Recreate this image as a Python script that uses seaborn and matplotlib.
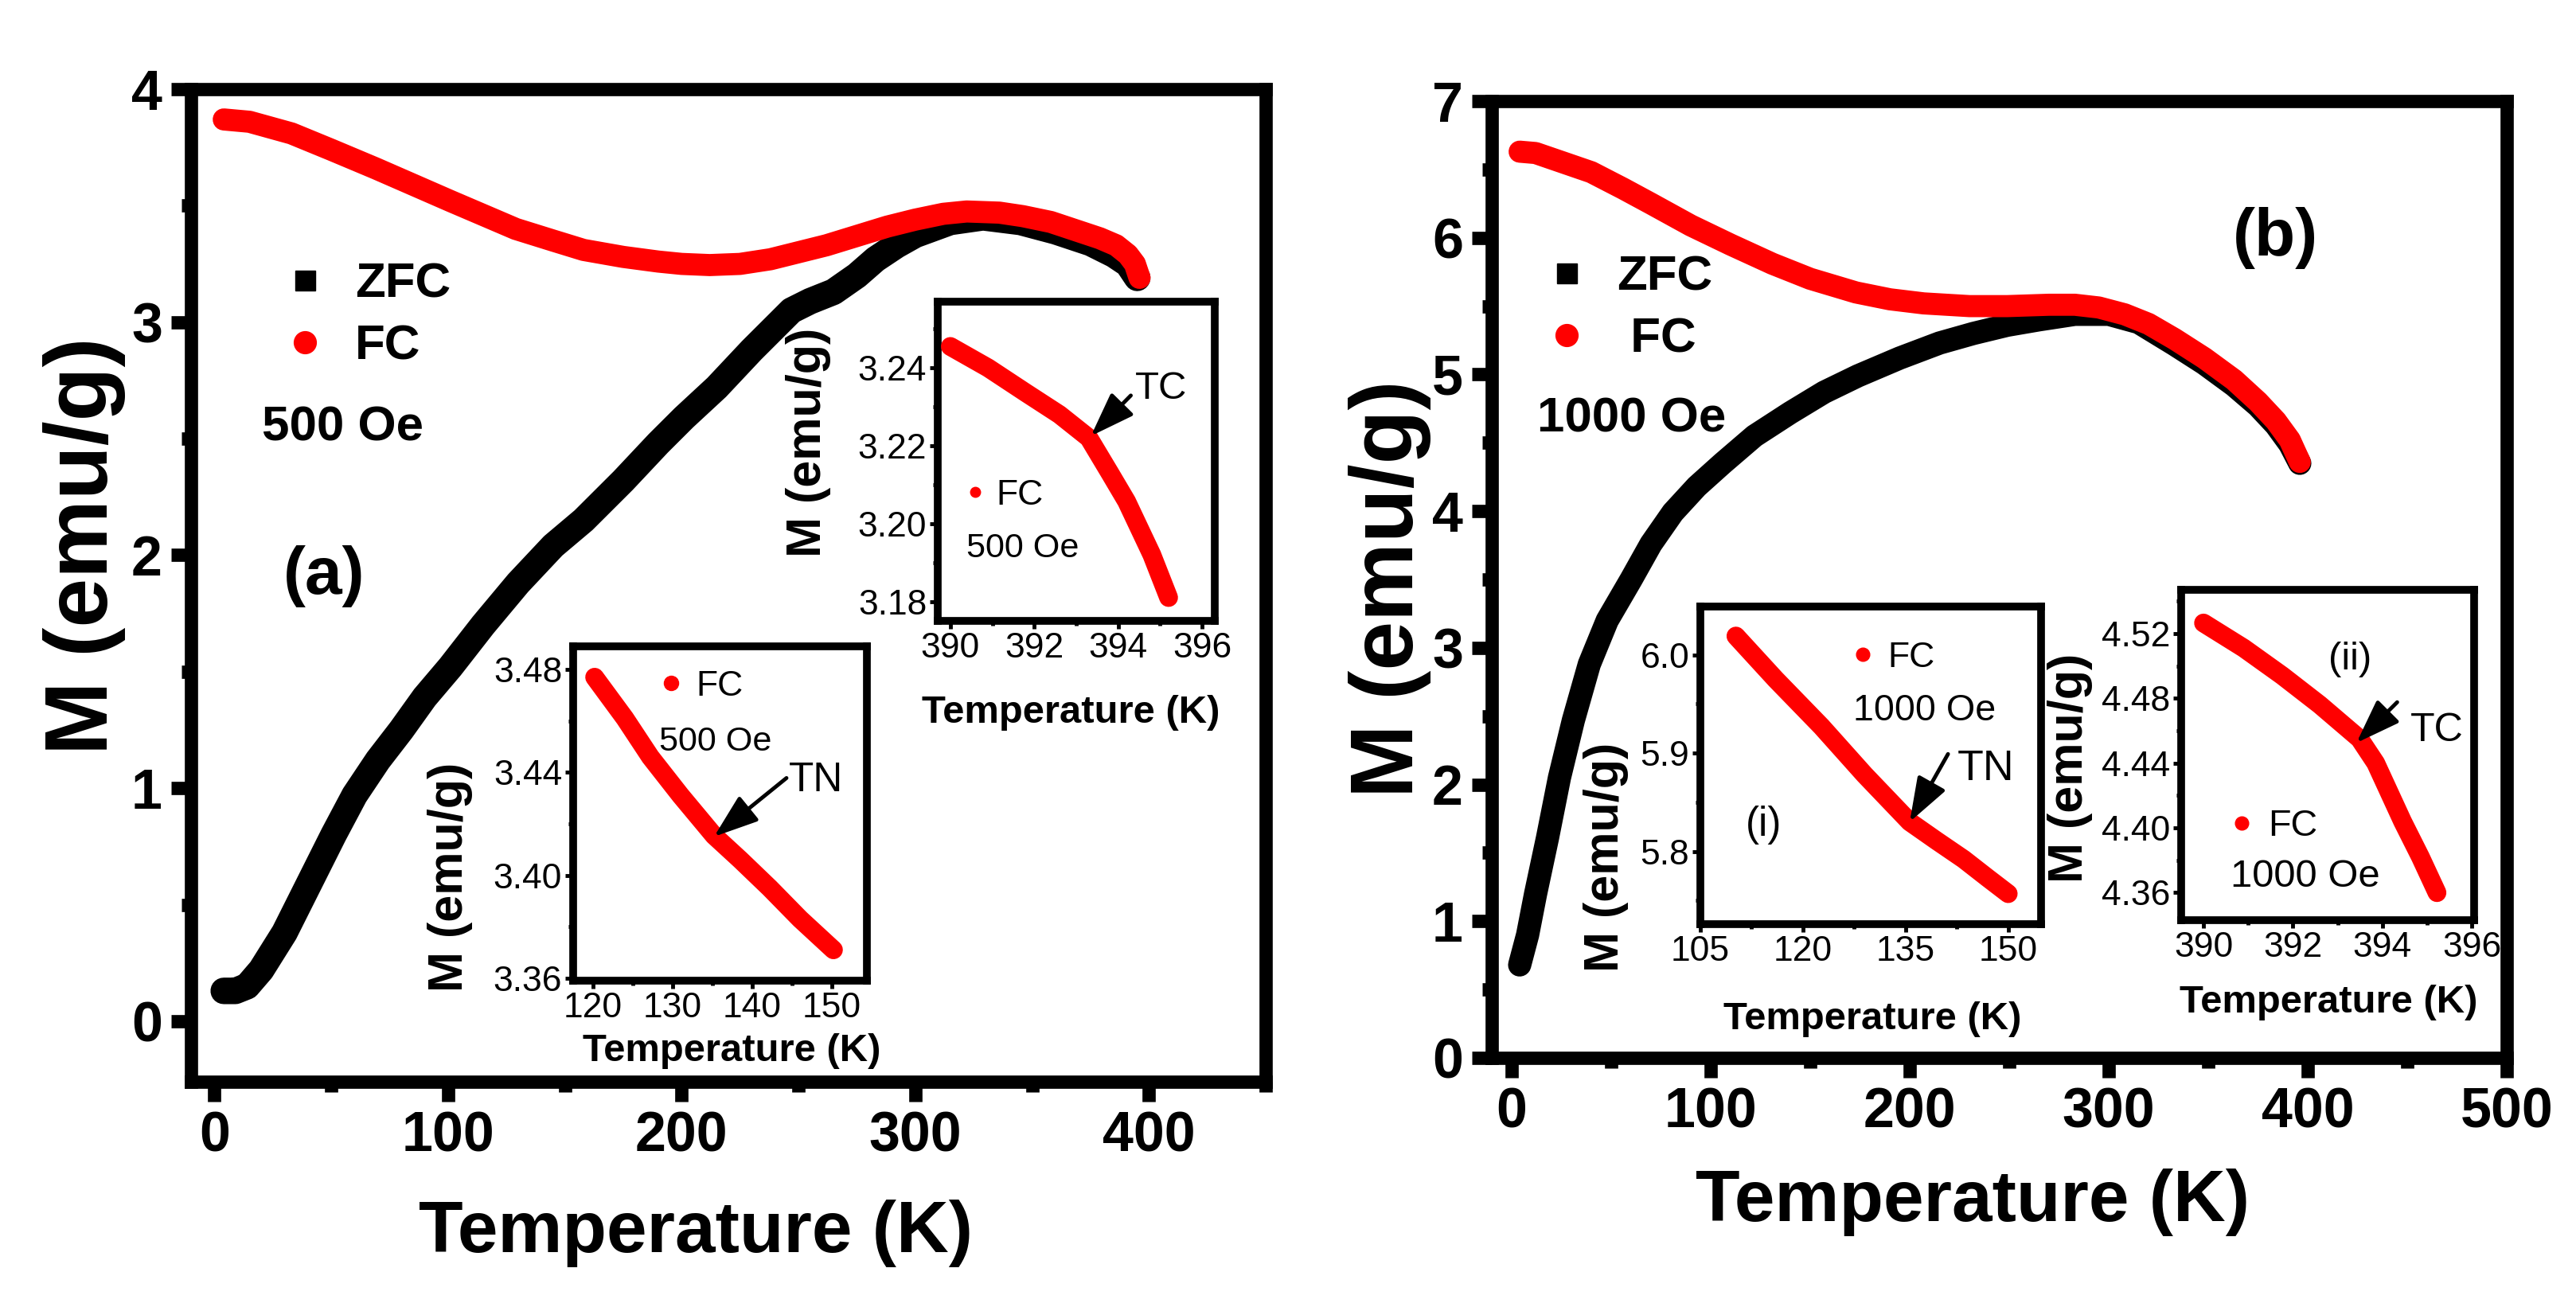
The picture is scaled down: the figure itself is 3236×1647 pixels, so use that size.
import numpy as np
import pandas as pd
import seaborn as sns
import matplotlib
matplotlib.use("Agg")
import matplotlib.pyplot as plt
from matplotlib.lines import Line2D
from matplotlib.ticker import MultipleLocator
from matplotlib import font_manager as fm

# ---------------- data ----------------
# panel (a), 500 Oe
a_T_fc = [4, 15, 33, 50, 69, 85, 101, 115, 129, 145, 158, 175, 190, 200, 212, 225, 238, 250,
          262, 275, 288, 300, 312, 322, 336, 346, 358, 370, 379, 386, 391, 394, 396]
a_M_fc = [3.87, 3.86, 3.81, 3.74, 3.66, 3.59, 3.52, 3.46, 3.40, 3.35, 3.31, 3.28, 3.26, 3.25,
          3.245, 3.25, 3.27, 3.30, 3.33, 3.37, 3.41, 3.44, 3.465, 3.475, 3.47, 3.455, 3.43,
          3.39, 3.36, 3.33, 3.29, 3.25, 3.19]
a_T_zfc = [4, 9, 14, 20, 30, 40, 51, 60, 70, 80, 90, 101, 115, 130, 145, 158, 175, 190, 201,
           215, 230, 240, 247, 255, 265, 275, 283, 292, 300, 315, 329, 345, 360, 375, 385, 391, 395]
a_M_zfc = [0.13, 0.13, 0.15, 0.22, 0.38, 0.58, 0.80, 0.97, 1.12, 1.25, 1.39, 1.52, 1.70, 1.88,
           2.04, 2.15, 2.32, 2.48, 2.59, 2.72, 2.88, 2.98, 3.05, 3.09, 3.13, 3.20, 3.27, 3.33,
           3.375, 3.43, 3.45, 3.43, 3.39, 3.34, 3.29, 3.25, 3.19]

# panel (b), 1000 Oe
b_T_fc = [4, 12, 20, 30, 40, 56, 70, 90, 110, 131, 150, 173, 190, 207, 230, 249, 270, 283,
          295, 308, 320, 333, 348, 363, 375, 384, 391, 396]
b_M_fc = [6.63, 6.62, 6.58, 6.53, 6.48, 6.36, 6.25, 6.09, 5.95, 5.81, 5.70, 5.60, 5.55, 5.52,
          5.50, 5.50, 5.51, 5.51, 5.49, 5.44, 5.37, 5.26, 5.12, 4.96, 4.80, 4.66, 4.52, 4.36]
b_T_zfc = [4, 8, 12, 18, 24, 31, 39, 48, 60, 70, 81, 93, 106, 122, 140, 157, 174, 195, 215,
           232, 249, 265, 283, 300, 315, 333, 348, 363, 375, 384, 391, 396]
b_M_zfc = [0.68, 0.90, 1.20, 1.61, 2.05, 2.47, 2.88, 3.20, 3.50, 3.76, 3.99, 4.18, 4.35, 4.55,
           4.72, 4.87, 4.99, 5.12, 5.23, 5.30, 5.36, 5.40, 5.44, 5.44, 5.38, 5.22, 5.08, 4.92,
           4.77, 4.63, 4.49, 4.35]

# insets
a1_T = [120.2, 124, 127.2, 131, 135.2, 138.5, 142.2, 146, 150.2]
a1_M = [3.477, 3.461, 3.446, 3.431, 3.4154, 3.406, 3.395, 3.383, 3.371]
a2_T = [390.0, 390.9, 391.8, 392.6, 393.3, 393.8, 394.2, 394.8, 395.2]
a2_M = [3.2455, 3.240, 3.2336, 3.228, 3.222, 3.213, 3.2057, 3.192, 3.181]
b1_T = [110.2, 116, 122.7, 129, 135.6, 139.5, 143.5, 147, 150]
b1_M = [6.019, 5.975, 5.927, 5.878, 5.830, 5.811, 5.792, 5.773, 5.757]
b2_T = [390.0, 390.9, 391.76, 392.6, 393.49, 393.85, 394.45, 394.85, 395.22]
b2_M = [4.5265, 4.511, 4.494, 4.476, 4.455, 4.440, 4.404, 4.382, 4.360]

# tick labels
a_xticks = [0, 100, 200, 300, 400]
a_yticks = [0, 1, 2, 3, 4]
b_xticks = [0, 100, 200, 300, 400, 500]
b_yticks = [0, 1, 2, 3, 4, 5, 6, 7]
a1_xticks = [120, 130, 140, 150]
a1_yticks = [3.36, 3.40, 3.44, 3.48]
a2_xticks = [390, 392, 394, 396]
a2_yticks = [3.18, 3.20, 3.22, 3.24]
b1_xticks = [105, 120, 135, 150]
b1_yticks = [5.8, 5.9, 6.0]
b2_xticks = [390, 392, 394, 396]
b2_yticks = [4.36, 4.40, 4.44, 4.48, 4.52]

# ---------------- style ----------------
sns.set_theme(style="white")
try:
    fm.findfont(fm.FontProperties(family="Liberation Sans Narrow", weight="bold"),
                fallback_to_default=False)
    NARROW, NS = "Liberation Sans Narrow", 1.0
except Exception:
    NARROW, NS = "Liberation Sans", 0.84
REG = ["Liberation Sans", "DejaVu Sans"]
plt.rcParams["font.family"] = [NARROW, "DejaVu Sans"]
plt.rcParams["axes.unicode_minus"] = False
for key in ["text.color", "axes.labelcolor", "xtick.color", "ytick.color", "axes.edgecolor"]:
    plt.rcParams[key] = "black"

W, H, DPI = 3237, 1647, 100
fig = plt.figure(figsize=(W / DPI, H / DPI), dpi=DPI)
fig.patch.set_facecolor("white")


def rect(box):
    l, r, t, b = box
    return [l / W, (H - b) / H, (r - l) / W, (b - t) / H]


A_BOX = (240, 1590, 112, 1359)
B_BOX = (1874, 3149, 127, 1329)
A1_BOX = (720, 1089, 812, 1232)
A2_BOX = (1178, 1526, 379, 780)
B1_BOX = (2136, 2564, 762, 1161)
B2_BOX = (2740, 3108, 741, 1156)

RED = "#ff0000"


def style_main(ax, xlim, ylim, xt, yt, xminor, yminor):
    ax.set_facecolor("white")
    ax.set_xlim(*xlim)
    ax.set_ylim(*ylim)
    ax.set_xticks(xt, [str(v) for v in xt], fontsize=60 * NS, fontweight="bold", color="black")
    ax.set_yticks(yt, [str(v) for v in yt], fontsize=60 * NS, fontweight="bold", color="black")
    ax.xaxis.set_minor_locator(MultipleLocator(xminor))
    ax.yaxis.set_minor_locator(MultipleLocator(yminor))
    for s in ax.spines.values():
        s.set_visible(True)
        s.set_linewidth(12)
        s.set_color("black")
    ax.tick_params(which="major", direction="out", length=18, width=12, color="black",
                   labelcolor="black", pad=8, bottom=True, left=True, top=False, right=False)
    ax.tick_params(which="minor", direction="out", length=9, width=12, color="black",
                   bottom=True, left=True, top=False, right=False)
    ax.grid(False)


def style_inset(ax, xlim, ylim, xt, xfmt, yt, yfmt, xminor, yminor):
    ax.set_facecolor("white")
    ax.set_xlim(*xlim)
    ax.set_ylim(*ylim)
    ax.set_xticks(xt, [xfmt.format(v) for v in xt], fontsize=38 * NS, color="black")
    ax.set_yticks(yt, [yfmt.format(v) for v in yt], fontsize=38 * NS, color="black")
    ax.xaxis.set_minor_locator(MultipleLocator(xminor))
    ax.yaxis.set_minor_locator(MultipleLocator(yminor))
    for s in ax.spines.values():
        s.set_visible(True)
        s.set_linewidth(7)
        s.set_color("black")
    ax.tick_params(which="major", direction="out", length=7, width=3.5, color="black",
                   labelcolor="black", pad=3, bottom=True, left=True, top=False, right=False)
    ax.tick_params(which="minor", direction="out", length=4, width=3.5, color="black",
                   bottom=True, left=True, top=False, right=False)
    ax.grid(False)


def curve(ax, T, M, color, lw, z):
    df = pd.DataFrame({"T": T, "M": M})
    sns.lineplot(data=df, x="T", y="M", ax=ax, color=color, linewidth=lw, sort=False,
                 estimator=None, solid_capstyle="round", solid_joinstyle="round", zorder=z)


def marker_legend(ax, box, handles, labels, mx_px, cy_px, fs, hl, htp, ls, weight):
    l, r, t, b = box
    fs_px = fs * DPI / 72.0
    fx = (mx_px - hl * fs_px / 2.0 - l) / (r - l)
    fy = (b - cy_px) / (b - t)
    leg = ax.legend(handles=handles, labels=labels, loc="center left", bbox_to_anchor=(fx, fy),
                    frameon=False, borderpad=0, borderaxespad=0, handlelength=hl,
                    handletextpad=htp, labelspacing=ls, labelcolor="black",
                    prop=dict(family=[NARROW, "DejaVu Sans"], size=fs, weight=weight))
    return leg


def arrow(ax, tail, tip):
    ax.annotate("", xy=tip, xytext=tail,
                arrowprops=dict(arrowstyle="-|>,head_length=0.9,head_width=0.32",
                                color="black", lw=3.5, mutation_scale=38,
                                shrinkA=0, shrinkB=0))


# ---------------- panel (a) ----------------
axA = fig.add_axes(rect(A_BOX))
curve(axA, a_T_zfc, a_M_zfc, "black", 24, 2)
curve(axA, a_T_fc, a_M_fc, RED, 20, 3)
style_main(axA, (-10, 450), (-0.26, 4.0), a_xticks, a_yticks, 50, 0.5)
axA.set_xlabel("Temperature (K)", fontsize=78 * NS, fontweight="bold", va="center")
axA.xaxis.set_label_coords(0.47, -0.153)
axA.set_ylabel("M (emu/g)", fontsize=80, fontweight="bold", family=REG, va="center")
axA.yaxis.set_label_coords(-0.099, 0.54)
hA = [Line2D([], [], marker="s", ls="", color="black", ms=18),
      Line2D([], [], marker="o", ls="", color=RED, ms=20)]
marker_legend(axA, A_BOX, hA, ["ZFC", "FC"], 383, 397, 53 * NS, 0.8, 0.62, 0.33, "bold")
axA.text(20.4, 2.546, "500 Oe", fontsize=53 * NS, fontweight="bold", ha="left", va="center")
axA.text(47, 1.91, "(a)", fontsize=72 * NS, fontweight="bold", ha="center", va="center")

# inset (a)-1: TN
ax1 = fig.add_axes(rect(A1_BOX))
ax1.set_zorder(5)
curve(ax1, a1_T, a1_M, RED, 17, 3)
style_inset(ax1, (117.5, 154.4), (3.359, 3.489), a1_xticks, "{:d}", a1_yticks, "{:.2f}", 5, 0.02)
ax1.set_xlabel("Temperature (K)", fontsize=42 * NS, fontweight="bold", va="center")
ax1.xaxis.set_label_coords(0.54, -0.21)
ax1.set_ylabel("M (emu/g)", fontsize=44, fontweight="bold", family=REG, va="center")
ax1.yaxis.set_label_coords(-0.42, 0.31)
marker_legend(ax1, A1_BOX, [Line2D([], [], marker="o", ls="", color=RED, ms=13)], ["FC"],
              843, 862, 38 * NS, 0.5, 0.45, 0.2, "normal")
ax1.text(128.3, 3.452, "500 Oe", fontsize=37 * NS, ha="left", va="center")
ax1.text(144.6, 3.437, "TN", fontsize=44 * NS, ha="left", va="center")
arrow(ax1, (144.3, 3.4378), (135.2, 3.4150))

# inset (a)-2: TC
ax2 = fig.add_axes(rect(A2_BOX))
ax2.set_zorder(5)
curve(ax2, a2_T, a2_M, RED, 17, 3)
style_inset(ax2, (389.7, 396.3), (3.175, 3.257), a2_xticks, "{:d}", a2_yticks, "{:.2f}", 1, 0.01)
ax2.set_xlabel("Temperature (K)", fontsize=42 * NS, fontweight="bold", va="center")
ax2.xaxis.set_label_coords(0.48, -0.287)
ax2.set_ylabel("M (emu/g)", fontsize=44, fontweight="bold", family=REG, va="center")
ax2.yaxis.set_label_coords(-0.468, 0.56)
marker_legend(ax2, A2_BOX, [Line2D([], [], marker="o", ls="", color=RED, ms=9)], ["FC"],
              1225, 622, 38 * NS, 0.5, 0.35, 0.2, "normal")
ax2.text(390.38, 3.1936, "500 Oe", fontsize=37 * NS, ha="left", va="center")
ax2.text(394.4, 3.2346, "TC", fontsize=42 * NS, ha="left", va="center")
arrow(ax2, (394.3, 3.2329), (393.35, 3.2225))

# ---------------- panel (b) ----------------
axB = fig.add_axes(rect(B_BOX))
curve(axB, b_T_zfc, b_M_zfc, "black", 21, 2)
curve(axB, b_T_fc, b_M_fc, RED, 20, 3)
style_main(axB, (-10, 500), (0, 7), b_xticks, b_yticks, 50, 0.5)
axB.set_xlabel("Temperature (K)", fontsize=78 * NS, fontweight="bold", va="center")
axB.xaxis.set_label_coords(0.474, -0.151)
axB.set_ylabel("M (emu/g)", fontsize=80, fontweight="bold", family=REG, va="center")
axB.yaxis.set_label_coords(-0.10, 0.49)
hB = [Line2D([], [], marker="s", ls="", color="black", ms=18),
      Line2D([], [], marker="o", ls="", color=RED, ms=20)]
marker_legend(axB, B_BOX, hB, ["ZFC", " FC"], 1968, 388, 53 * NS, 0.8, 0.62, 0.33, "bold")
axB.text(13, 4.67, "1000 Oe", fontsize=53 * NS, fontweight="bold", ha="left", va="center")
axB.text(383.6, 6.0, "(b)", fontsize=72 * NS, fontweight="bold", ha="center", va="center")

# inset (b)-(i)
ax3 = fig.add_axes(rect(B1_BOX))
ax3.set_zorder(5)
curve(ax3, b1_T, b1_M, RED, 17, 3)
style_inset(ax3, (105.3, 154.8), (5.726, 6.049), b1_xticks, "{:d}", b1_yticks, "{:.1f}", 7.5, 0.05)
ax3.set_xlabel("Temperature (K)", fontsize=42 * NS, fontweight="bold", va="center")
ax3.xaxis.set_label_coords(0.505, -0.30)
ax3.set_ylabel("M (emu/g)", fontsize=44, fontweight="bold", family=REG, va="center")
ax3.yaxis.set_label_coords(-0.276, 0.21)
marker_legend(ax3, B1_BOX, [Line2D([], [], marker="o", ls="", color=RED, ms=12)], ["FC"],
              2340, 826, 38 * NS, 0.5, 0.45, 0.2, "normal")
ax3.text(127.3, 5.943, "1000 Oe", fontsize=40 * NS, ha="left", va="center")
ax3.text(142.5, 5.884, "TN", fontsize=46 * NS, ha="left", va="center")
ax3.text(114.2, 5.827, "(i)", fontsize=44 * NS, ha="center", va="center")
arrow(ax3, (141.2, 5.899), (135.6, 5.830))

# inset (b)-(ii)
ax4 = fig.add_axes(rect(B2_BOX))
ax4.set_zorder(5)
curve(ax4, b2_T, b2_M, RED, 17, 3)
style_inset(ax4, (389.5, 396.05), (4.343, 4.547), b2_xticks, "{:d}", b2_yticks, "{:.2f}", 1, 0.02)
ax4.set_xlabel("Temperature (K)", fontsize=42 * NS, fontweight="bold", va="center")
ax4.xaxis.set_label_coords(0.503, -0.25)
ax4.set_ylabel("M (emu/g)", fontsize=44, fontweight="bold", family=REG, va="center")
ax4.yaxis.set_label_coords(-0.38, 0.46)
marker_legend(ax4, B2_BOX, [Line2D([], [], marker="o", ls="", color=RED, ms=12)], ["FC"],
              2816, 1038, 40 * NS, 0.5, 0.45, 0.2, "normal")
ax4.text(390.6, 4.370, "1000 Oe", fontsize=42 * NS, ha="left", va="center")
ax4.text(394.63, 4.460, "TC", fontsize=43 * NS, ha="left", va="center")
ax4.text(393.28, 4.504, "(ii)", fontsize=42 * NS, ha="center", va="center")
arrow(ax4, (394.33, 4.4776), (393.42, 4.4525))

fig.savefig("out.png", dpi=DPI, facecolor="white")
